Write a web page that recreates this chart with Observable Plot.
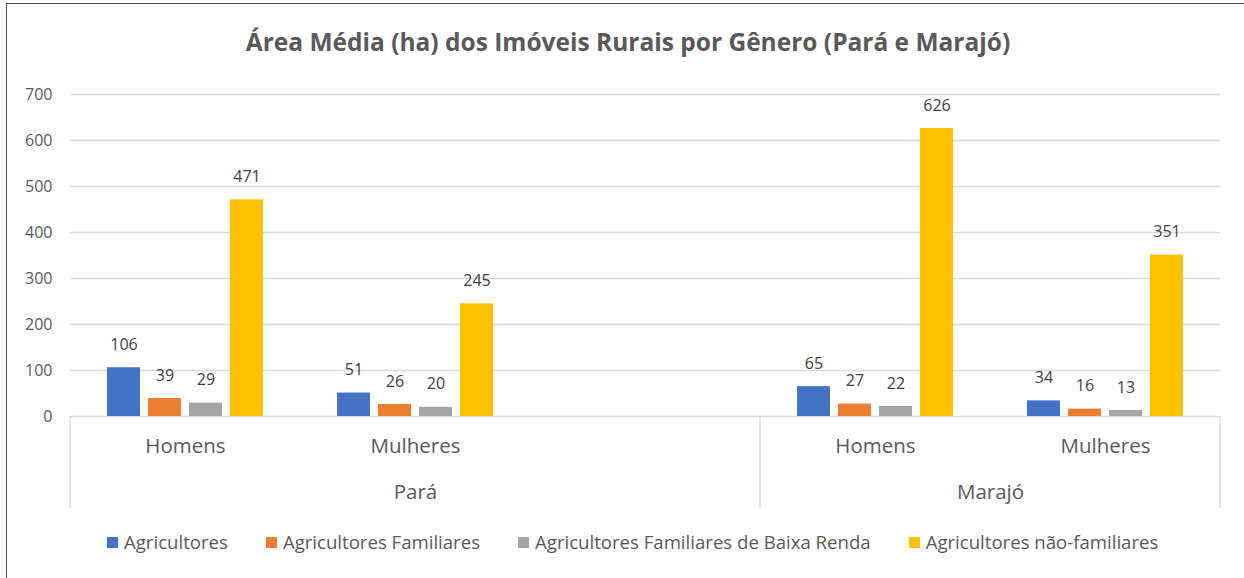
<!DOCTYPE html>
<html>
<head>
<meta charset="utf-8">
<script src="https://cdn.jsdelivr.net/npm/d3@7"></script>
<script src="https://cdn.jsdelivr.net/npm/@observablehq/plot@0.6"></script>
<style>
  html, body { margin: 0; padding: 0; background: #fff; }
  #chart { position: relative; width: 1244px; height: 578px; overflow: hidden; font-family: "Open Sans", sans-serif; background: #fff; }
  #frameTop { position: absolute; left: 6px; top: 3px; width: 1238px; height: 0; border-top: 1.5px solid #44546a; }
  #frameLeft { position: absolute; left: 6px; top: 3px; width: 0; height: 575px; border-left: 1.5px solid #44546a; }
  #title { position: absolute; left: 628px; top: 30px; transform: translateX(-50%); white-space: nowrap;
           font-size: 24.5px; line-height: 24.5px; font-weight: 700; color: #595959; }
  #plotHolder { position: absolute; left: 0; top: 0; }
  #legend { position: absolute; left: 107px; top: 533px; display: flex; gap: 38px; white-space: nowrap; }
  .item { display: inline-flex; align-items: center; font-size: 18.6px; line-height: 18.6px; color: #595959; }
  .sw { display: inline-block; width: 11px; height: 11px; margin-right: 6px; }
</style>
</head>
<body>
<div id="chart">
  <div id="plotHolder"></div>
  <div id="frameTop"></div>
  <div id="frameLeft"></div>
  <div id="title"></div>
  <div id="legend"></div>
</div>
<script>
// ---- data ----
const title = "Área Média (ha) dos Imóveis Rurais por Gênero (Pará e Marajó)";
const regions = ["Pará", "Pará", "Pará", "Marajó", "Marajó"];
const genders = ["Homens", "Mulheres", "", "Homens", "Mulheres"];
const series = ["Agricultores", "Agricultores Familiares", "Agricultores Familiares de Baixa Renda", "Agricultores não-familiares"];
const agricultores  = [106, 51, null, 65, 34];
const familiares    = [39, 26, null, 27, 16];
const baixaRenda    = [29, 20, null, 22, 13];
const naoFamiliares = [471, 245, null, 626, 351];
const colors = ["#4472C4", "#ED7D31", "#A5A5A5", "#FFC000"];
const yTicks = [0, 100, 200, 300, 400, 500, 600, 700];

// ---- build table ----
const keys = regions.map((r, i) => r + "|" + genders[i]);
const seriesValues = [agricultores, familiares, baixaRenda, naoFamiliares];
const rows = keys.flatMap((k, i) => series.map((s, j) => ({key: k, series: s, value: seriesValues[j][i]})))
  .filter(d => d.value != null);
const catLabels = keys.map((k, i) => ({key: k, label: genders[i]}));

document.getElementById("title").textContent = title;

const plot = Plot.plot({
  width: 1244,
  height: 578,
  marginLeft: 70,
  marginRight: 24,
  marginTop: 94,
  marginBottom: 162,
  style: {fontFamily: "'Open Sans', sans-serif", background: "transparent", overflow: "visible"},
  fx: {domain: keys, padding: 0, axis: null},
  x: {domain: series, paddingInner: 0.205, paddingOuter: 0.873, axis: null},
  y: {domain: [0, 700], axis: null},
  color: {domain: series, range: colors},
  marks: [
    Plot.gridY(yTicks, {stroke: "#d9d9d9", strokeOpacity: 1, strokeWidth: 1.4}),
    Plot.axisY(yTicks, {tickSize: 0, tickPadding: 18, fontSize: 16, fill: "#595959", label: null}),
    Plot.barY(rows, {fx: "key", x: "series", y: "value", fill: "series"}),
    Plot.text(rows, {fx: "key", x: "series", y: "value", text: d => String(d.value), dy: -23,
                     fontSize: 16, fill: "#404040"}),
    Plot.text(catLabels, {fx: "key", text: "label", frameAnchor: "bottom", dy: 36, fontSize: 20.5, fill: "#595959"}),
    Plot.text([{key: keys[1], label: regions[1]}], {fx: "key", text: "label", frameAnchor: "bottom", dy: 82, fontSize: 20.5, fill: "#595959"}),
    Plot.text([{key: keys[3], label: regions[3]}], {fx: "key", text: "label", frameAnchor: "bottom-right", textAnchor: "middle", dy: 82, fontSize: 20.5, fill: "#595959"})
  ]
});

document.getElementById("plotHolder").appendChild(plot);

// region separators on the category axis, positioned with the fx scale
const fx = plot.scale("fx");
const y = plot.scale("y");
const bw = fx.bandwidth;
const fxPos = k => fx.apply(k);
const y0 = y.apply(0);
const sepXs = [fxPos(keys[0]), fxPos(keys[3]), fxPos(keys[4]) + bw];
const svg = d3.select(plot);
for (const sx of sepXs) {
  svg.append("line")
    .attr("x1", sx).attr("x2", sx)
    .attr("y1", y0).attr("y2", y0 + 92)
    .attr("stroke", "#d9d9d9").attr("stroke-width", 1.4);
}

// legend
const legend = document.getElementById("legend");
series.forEach((s, i) => {
  const item = document.createElement("span");
  item.className = "item";
  const sw = document.createElement("span");
  sw.className = "sw";
  sw.style.background = colors[i];
  item.appendChild(sw);
  item.appendChild(document.createTextNode(s));
  legend.appendChild(item);
});
</script>
</body>
</html>
